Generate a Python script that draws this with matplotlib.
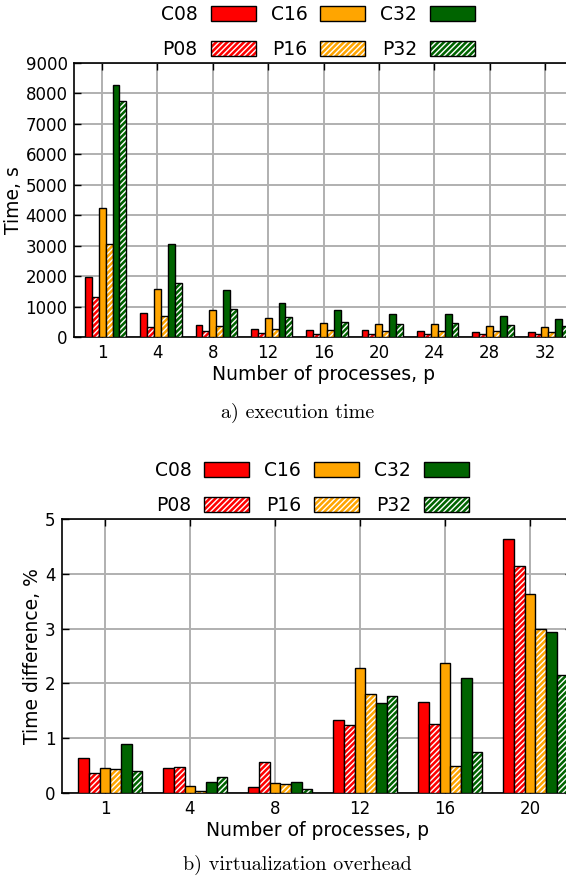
import matplotlib
matplotlib.use("Agg")
import matplotlib.pyplot as plt
import matplotlib.colors as mcolors
import numpy as np

# Execution time, seconds
procs_time = ["1", "4", "8", "12", "16", "20", "24", "28", "32"]
time_c08 = [1980, 790, 385, 275, 240, 220, 200, 175, 155]
time_p08 = [1320, 330, 190, 140, 110, 110, 110, 90, 90]
time_c16 = [4230, 1580, 870, 625, 450, 417, 417, 362, 318]
time_p16 = [3040, 700, 375, 275, 220, 187, 200, 187, 155]
time_c32 = [8280, 3060, 1540, 1130, 880, 770, 746, 680, 604]
time_p32 = [7760, 1780, 930, 660, 505, 440, 450, 395, 350]

# Virtualization overhead, percent
procs_diff = ["1", "4", "8", "12", "16", "20"]
diff_c08 = [0.64, 0.457, 0.116, 1.34, 1.663, 4.64]
diff_p08 = [0.365, 0.475, 0.566, 1.236, 1.26, 4.135]
diff_c16 = [0.457, 0.134, 0.19, 2.284, 2.375, 3.636]
diff_p16 = [0.445, 0.043, 0.16, 1.815, 0.493, 3.0]
diff_c32 = [0.895, 0.207, 0.2, 1.644, 2.095, 2.93]
diff_p32 = [0.396, 0.286, 0.073, 1.778, 0.755, 2.156]

labels = ["C08", "P08", "C16", "P16", "C32", "P32"]
colors = ["#ff0000", "#ff0000", "#ffa500", "#ffa500", "#006400", "#006400"]
hatched = [False, True, False, True, False, True]

plt.rcParams["font.family"] = ["DejaVu Sans"]
plt.rcParams["hatch.linewidth"] = 1.0

fig = plt.figure(figsize=(5.66, 8.81), dpi=100)
ax1 = fig.add_axes([0.1316, 0.6175, 0.880, 0.311])
ax2 = fig.add_axes([0.1104, 0.0999, 0.901, 0.311])

width = 0.125


def draw(ax, cats, series, ylim, yticks, ylabel):
    x = np.arange(len(cats))
    handles = []
    for i, vals in enumerate(series):
        bars = ax.bar(x + (i - 2) * width, vals, width, color=colors[i],
                      edgecolor="black", linewidth=1.0,
                      hatch="//////" if hatched[i] else None,
                      label=labels[i], zorder=3)
        if hatched[i]:
            for p in bars.patches:
                p._hatch_color = mcolors.to_rgba("white")
        handles.append(bars)
    ax.set_xlim(-0.5, len(cats) - 0.5)
    ax.set_ylim(*ylim)
    ax.set_yticks(yticks)
    ax.set_xticks(x)
    ax.set_xticklabels(cats)
    ax.tick_params(direction="in", top=True, right=True, length=5,
                   width=1.0, labelsize=12, pad=5)
    ax.grid(True, color="#b0b0b0", linewidth=1.4, zorder=0)
    ax.set_axisbelow(True)
    for s in ax.spines.values():
        s.set_linewidth(1.2)
    ax.set_xlabel("Number of processes, p", fontsize=13.5, labelpad=2)
    ax.set_ylabel(ylabel, fontsize=13.5, labelpad=2)
    ax.legend(handles, labels,
              ncol=3, loc="lower center", bbox_to_anchor=(0.489, 1.0),
              frameon=False, markerfirst=False, fontsize=13.5,
              handlelength=2.4, handleheight=0.85, handletextpad=0.7,
              columnspacing=0.8, labelspacing=0.86, borderaxespad=0.0,
              borderpad=0.2)


draw(ax1, procs_time,
     [time_c08, time_p08, time_c16, time_p16, time_c32, time_p32],
     (0, 9000), np.arange(0, 9001, 1000), "Time, s")
draw(ax2, procs_diff,
     [diff_c08, diff_p08, diff_c16, diff_p16, diff_c32, diff_p32],
     (0, 5), np.arange(0, 6, 1), "Time difference, %")

fig.text(297.5 / 566, 1 - 413 / 881, "a) execution time", ha="center",
         va="center", fontsize=14.5, family="cmr10")
fig.text(297.5 / 566, 1 - 865 / 881, "b) virtualization overhead",
         ha="center", va="center", fontsize=14.5, family="cmr10")

fig.savefig("out.png", dpi=100)
